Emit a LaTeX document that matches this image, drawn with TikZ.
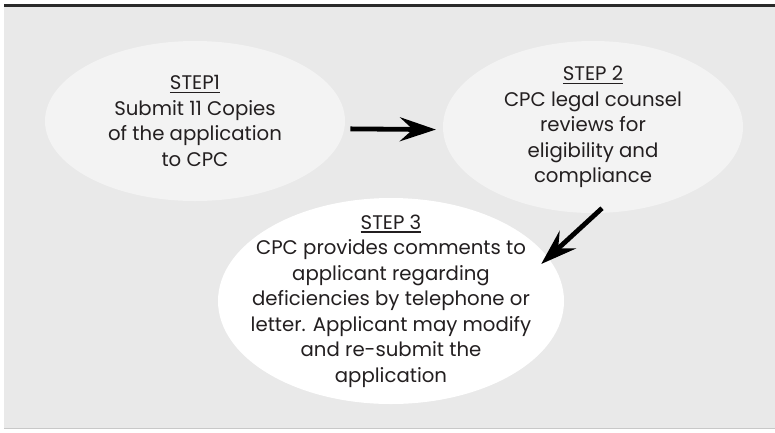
\documentclass[tikz,border=0pt]{standalone}
\usepackage{fontspec}
\setmainfont{Poppins}
\usetikzlibrary{shapes.geometric,arrows.meta,calc}
\definecolor{bggray}{HTML}{E9E9E9}
\definecolor{ellgray}{HTML}{F3F3F3}
\definecolor{txt}{HTML}{231F20}
\definecolor{topline}{HTML}{2A2A2A}
\definecolor{botline}{HTML}{C8C8C8}
\tikzset{
  stepell/.style={ellipse, draw=none, inner sep=0pt},
  steptext/.style={align=center, text=txt, inner sep=0pt,
    font={\fontsize{19.7}{25.5}\selectfont}},
  arr/.style={line width=4.8pt, -{Stealth[length=36pt,width=24pt,inset=13pt]}, black}
}
\newcommand{\stepul}[1]{\setbox0\hbox{#1}\rlap{\rule[-3.5pt]{\wd0}{1.3pt}}\box0}
\begin{document}
\begin{tikzpicture}[x=1pt,y=-1pt]
\useasboundingbox (0,0) rectangle (775,432);
\fill[white] (0,0) rectangle (775,432);
\fill[bggray] (4,6) rectangle (775,428);
\fill[topline] (4,4) rectangle (775,7);
\fill[botline] (4,427.5) rectangle (775,429);
\node[stepell, fill=ellgray, minimum width=300pt, minimum height=160pt] (s1) at (195,121) {};
\node[stepell, fill=ellgray, minimum width=300pt, minimum height=172pt] (s2) at (593,127) {};
\node[stepell, fill=white, minimum width=346pt, minimum height=206pt] (s3) at (391,301) {};
\node[steptext] (t1) at (s1) {\stepul{STEP1}\\Submit 11 Copies\\of the application\\to CPC};
\node[steptext] (t2) at (s2) {\stepul{STEP 2}\\CPC legal counsel\\reviews for\\eligibility and\\compliance};
\node[steptext] (t3) at (s3) {\stepul{STEP 3}\\CPC provides comments to\\applicant regarding\\deficiencies by telephone or\\letter. Applicant may modify\\and re-submit the\\application};
\draw[arr, shorten <=6pt, shorten >=7pt] (s1.-3.5) -- (s2.181);
\draw[arr] ($(s2.south)+(9,-5)$) -- ($(s3.east)+(-23,-37)$);
\end{tikzpicture}
\end{document}
